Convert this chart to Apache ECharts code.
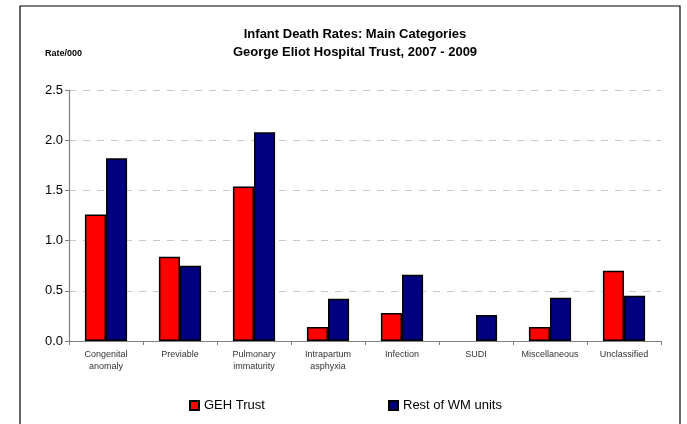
<!DOCTYPE html>
<html>
<head>
<meta charset="utf-8">
<script src="https://cdn.jsdelivr.net/npm/echarts@6/dist/echarts.min.js"></script>
<style>
html,body{margin:0;padding:0;background:#fff;}
#chart{width:687px;height:424px;}
</style>
</head>
<body>
<div id="chart"></div>
<script>
var categories = ['Congenital\nanomaly', 'Previable', 'Pulmonary\nimmaturity', 'Intrapartum\nasphyxia', 'Infection', 'SUDI', 'Miscellaneous', 'Unclassified'];
var gehTrust = [1.26, 0.84, 1.54, 0.14, 0.28, null, 0.14, 0.70];
var restOfWM = [1.82, 0.75, 2.08, 0.42, 0.66, 0.26, 0.43, 0.45];
var seriesNames = ['GEH Trust', 'Rest of WM units'];
var titleLines = ['Infant Death Rates: Main Categories', 'George Eliot Hospital Trust, 2007 - 2009'];
var yAxisName = 'Rate/000';

var font = '"Liberation Sans", Arial, sans-serif';
var chart = echarts.init(document.getElementById('chart'));
chart.setOption({
  animation: false,
  textStyle: { fontFamily: font },
  title: {
    text: titleLines.join('\n'),
    left: 350, textAlign: 'center',
    top: 20,
    textStyle: { fontFamily: font, fontSize: 13, fontWeight: 'bold', color: '#000', lineHeight: 18 }
  },
  graphic: [
    { type: 'rect', shape: { x: 20, y: 6, width: 660, height: 430 }, style: { fill: 'none', stroke: '#000', lineWidth: 1.2 }, silent: true },
    { type: 'text', x: 45, y: 54, style: { text: yAxisName, fontFamily: font, fontSize: 9, fontWeight: 'bold', fill: '#000', verticalAlign: 'middle' } }
  ],
  legend: [
    { data: [seriesNames[0]], left: 184, top: 394, itemWidth: 9, itemHeight: 9, icon: 'rect',
      textStyle: { fontFamily: font, fontSize: 13, color: '#000' } },
    { data: [seriesNames[1]], left: 383, top: 394, itemWidth: 9, itemHeight: 9, icon: 'rect',
      textStyle: { fontFamily: font, fontSize: 13, color: '#000' } }
  ],
  grid: { left: 69, right: 26, top: 90, bottom: 83, containLabel: false },
  xAxis: {
    type: 'category',
    data: categories,
    axisLine: { lineStyle: { color: '#808080', width: 1.2 } },
    axisTick: { show: true, inside: false, length: 4, alignWithLabel: false, lineStyle: { color: '#808080' } },
    axisLabel: { interval: 0, fontFamily: font, fontSize: 9, color: '#333', lineHeight: 12, margin: 8 },
    splitLine: { show: false }
  },
  yAxis: {
    type: 'value',
    min: 0, max: 2.5, interval: 0.5,
    axisLine: { show: true, lineStyle: { color: '#808080', width: 1.2 } },
    axisTick: { show: true, inside: false, length: 4, lineStyle: { color: '#808080' } },
    axisLabel: { fontFamily: font, fontSize: 13, color: '#000', margin: 6,
      formatter: function (v) { return v.toFixed(1); } },
    splitLine: { show: true, lineStyle: { color: '#c8c8c8', type: [7, 7], width: 1 } }
  },
  series: [
    { name: seriesNames[0], type: 'bar', data: gehTrust, barGap: '0%', barCategoryGap: '43%',
      itemStyle: { color: '#ff0000', borderColor: '#000', borderWidth: 1.5 } },
    { name: seriesNames[1], type: 'bar', data: restOfWM, barGap: '0%', barCategoryGap: '43%',
      itemStyle: { color: '#000080', borderColor: '#000', borderWidth: 1.5 } }
  ]
});
</script>
</body>
</html>
